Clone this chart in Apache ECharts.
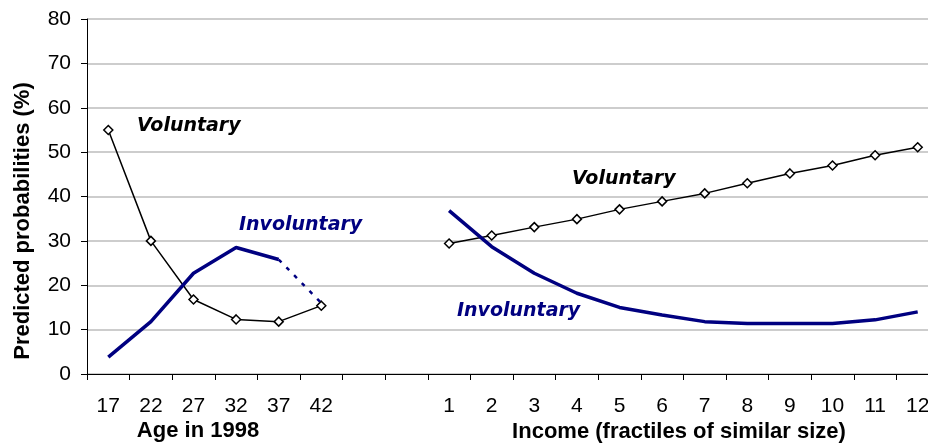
<!DOCTYPE html>
<html>
<head>
<meta charset="utf-8">
<script src="https://cdn.jsdelivr.net/npm/echarts@6/dist/echarts.min.js"></script>
<style>
  html, body { margin: 0; padding: 0; background: #fff; overflow: hidden; }
  /* the plot runs a little past the right edge of the picture, so the canvas is wider than the window */
  #chart { width: 940px; height: 445px; }
</style>
</head>
<body>
<div id="chart"></div>
<script>
// x axis: ages, two empty slots as a gap, then income fractiles
const ageLabels = ['17', '22', '27', '32', '37', '42'];
const gapLabels = ['', ''];
const incomeLabels = ['1', '2', '3', '4', '5', '6', '7', '8', '9', '10', '11', '12'];

const ageVoluntary = [55, 30, 16.8, 12.3, 11.8, 15.4];
const ageInvoluntary = [3.8, 11.8, 22.7, 28.5, 25.8];
const ageInvoluntaryDashed = [25.8, 16]; // 37 -> 42
const incomeVoluntary = [29.4, 31.2, 33.1, 34.9, 37.1, 38.9, 40.7, 43.0, 45.2, 47.0, 49.3, 51.1];
const incomeInvoluntary = [36.8, 28.7, 22.7, 18.2, 15.0, 13.3, 11.8, 11.4, 11.4, 11.4, 12.2, 14.0];

const yTicks = [0, 10, 20, 30, 40, 50, 60, 70, 80];

const categories = ageLabels.concat(gapLabels, incomeLabels);
const nulls = n => new Array(n).fill(null);

const voluntaryData = ageVoluntary.concat(nulls(gapLabels.length), incomeVoluntary);
const involuntaryData = ageInvoluntary.concat(nulls(ageLabels.length - ageInvoluntary.length + gapLabels.length), incomeInvoluntary);
const involuntaryDashedData = nulls(ageLabels.length - 2).concat(ageInvoluntaryDashed, nulls(gapLabels.length + incomeLabels.length));

const navy = '#000080';
const font = "'Liberation Sans', Arial, sans-serif";
const noteFont = "'DejaVu Sans', sans-serif";

const chart = echarts.init(document.getElementById('chart'));

const option = {
    animation: false,
    backgroundColor: '#fff',
    grid: {
        left: 87,
        top: 19,
        bottom: 71,
        width: 852
    },
    xAxis: {
        type: 'category',
        data: categories,
        boundaryGap: true,
        axisLine: { lineStyle: { color: '#000', width: 1 } },
        axisTick: { show: true, length: 6, interval: 0, lineStyle: { color: '#000' } },
        axisLabel: { interval: 0, margin: 22, color: '#000', fontSize: 21, fontFamily: font },
        splitLine: { show: false }
    },
    yAxis: {
        type: 'value',
        min: yTicks[0],
        max: yTicks[yTicks.length - 1],
        interval: 10,
        axisLine: { show: true, lineStyle: { color: '#000', width: 1 } },
        axisTick: { show: true, length: 6, lineStyle: { color: '#000' } },
        axisLabel: { margin: 16, color: '#000', fontSize: 21, fontFamily: font },
        splitLine: { lineStyle: { color: '#bdbdbd', width: 1.5 } }
    },
    series: [
        {
            name: 'Voluntary',
            type: 'line',
            data: voluntaryData,
            symbol: 'diamond',
            symbolSize: 9,
            showAllSymbol: true,
            lineStyle: { color: '#000', width: 1.5 },
            itemStyle: { color: '#fff', borderColor: '#000', borderWidth: 1.5 },
            z: 2
        },
        {
            name: 'Involuntary',
            type: 'line',
            data: involuntaryData,
            symbol: 'none',
            lineStyle: { color: navy, width: 3.5 },
            z: 3
        },
        {
            name: 'Involuntary (projected)',
            type: 'line',
            data: involuntaryDashedData,
            symbol: 'none',
            lineStyle: { color: navy, width: 2.5, type: [4, 7] },
            z: 3
        }
    ],
    graphic: [
        {
            type: 'text', x: 23, y: 221, rotation: Math.PI / 2,
            style: { text: 'Predicted probabilities (%)', fill: '#000', font: 'bold 22px ' + font, align: 'center', verticalAlign: 'middle' }
        },
        {
            type: 'text', x: 198, y: 431,
            style: { text: 'Age in 1998', fill: '#000', font: 'bold 22px ' + font, align: 'center', verticalAlign: 'middle' }
        },
        {
            type: 'text', x: 679, y: 432,
            style: { text: 'Income (fractiles of similar size)', fill: '#000', font: 'bold 22px ' + font, align: 'center', verticalAlign: 'middle' }
        },
        {
            type: 'text', x: 137, y: 126,
            style: { text: 'Voluntary', fill: '#000', font: 'italic bold 19px ' + noteFont, align: 'left', verticalAlign: 'middle' }
        },
        {
            type: 'text', x: 239, y: 225,
            style: { text: 'Involuntary', fill: navy, font: 'italic bold 19px ' + noteFont, align: 'left', verticalAlign: 'middle' }
        },
        {
            type: 'text', x: 572, y: 179,
            style: { text: 'Voluntary', fill: '#000', font: 'italic bold 19px ' + noteFont, align: 'left', verticalAlign: 'middle' }
        },
        {
            type: 'text', x: 457, y: 311,
            style: { text: 'Involuntary', fill: navy, font: 'italic bold 19px ' + noteFont, align: 'left', verticalAlign: 'middle' }
        }
    ]
};

chart.setOption(option);
</script>
</body>
</html>
